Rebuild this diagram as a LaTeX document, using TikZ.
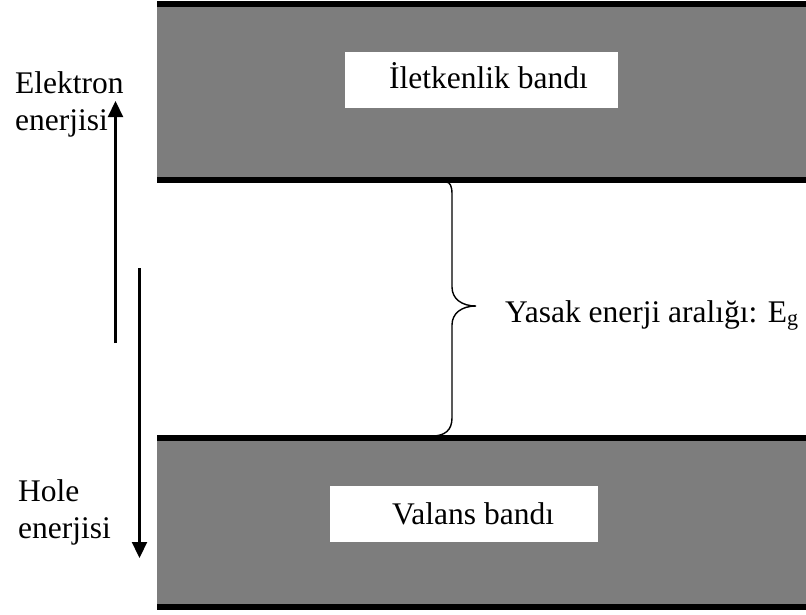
\documentclass[tikz,border=0pt]{standalone}
\usepackage{fontspec}
\setmainfont{Liberation Serif}
\usetikzlibrary{arrows.meta}
\begin{document}
\begin{tikzpicture}[x=1pt,y=-1pt,
  band/.style={fill={rgb,255:red,125;green,125;blue,125}, draw=none},
  edge/.style={line width=6pt},
  labelbox/.style={fill=white, draw=none},
  lbl/.style={font=\fontsize{31.5}{36}\selectfont, inner sep=0pt, anchor=base west},
  energyarrow/.style={line width=2.2pt, -{Triangle[width=15pt,length=16pt]}},
  bracepath/.style={line width=1.4pt}
]
\useasboundingbox (0,0) rectangle (806,614);
% bands
\fill[band] (157,4) rectangle (806,180);
\fill[band] (157,438) rectangle (806,607);
\draw[edge] (157,4) -- (806,4);
\draw[edge] (157,180) -- (806,180);
\draw[edge] (157,438) -- (806,438);
\draw[edge] (157,607) -- (806,607);
% label boxes
\fill[labelbox] (345,52) rectangle (618,108);
\node[lbl] (cb) at (389,88) {İletkenlik bandı};
\fill[labelbox] (330,486) rectangle (598,542);
\node[lbl] (vb) at (392,524) {Valans bandı};
% left labels
\node[lbl] (el1) at (15,93) {Elektron};
\node[lbl] (el2) at (15,130) {enerjisi};
\node[lbl] (ho1) at (18,501) {Hole};
\node[lbl] (ho2) at (18,538) {enerjisi};
% arrows
\coordinate (upS) at (115.5,343);
\coordinate (upE) at (115.5,101);
\coordinate (dnS) at (139.5,268);
\coordinate (dnE) at (139.5,558);
\draw[energyarrow] (upS) -- (upE);
\draw[energyarrow] (dnS) -- (dnE);
% brace
\coordinate (tip) at (476,306);
\draw[bracepath] (446,182) .. controls (450,182) and (452,186) .. (452,194)
  -- (452,287) .. controls (452,299) and (462,306) .. (tip)
  .. controls (462,306) and (452,313) .. (452,325)
  -- (452,418) .. controls (452,430) and (445,436) .. (432,436);
\node[lbl] (eg) at (505,322) {Yasak enerji aralığı: E\textsubscript{g}};
\end{tikzpicture}
\end{document}
